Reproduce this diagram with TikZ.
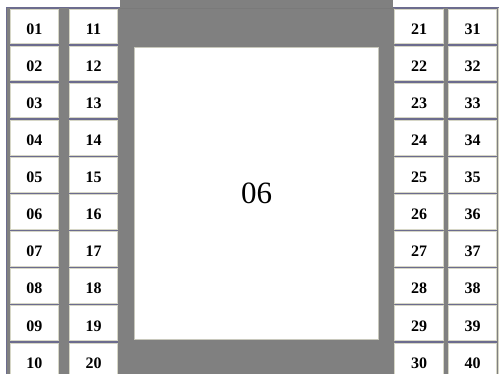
\documentclass[tikz,border=0pt]{standalone}
\usepackage{fontspec}
\setmainfont{Liberation Serif}
\definecolor{bg}{HTML}{808080}
\definecolor{sep}{HTML}{6C6C8E}
\definecolor{edge}{HTML}{D6D6C6}
\definecolor{frame}{HTML}{C8C8BC}
\begin{document}
\begin{tikzpicture}[x=1pt,y=-1pt,
  cellbox/.style={fill=white, draw=edge, line width=0.6pt, minimum width=48.5pt,
    minimum height=34.6pt, inner sep=0pt, text height=16pt, text depth=0pt,
    font=\fontsize{16}{16}\selectfont\bfseries},
  mainbox/.style={fill=white, draw=frame, line width=1.4pt, minimum width=244pt,
    minimum height=292pt, inner sep=0pt, font=\fontsize{31}{31}\selectfont}]
\useasboundingbox (0,0) rectangle (501,374);
\fill[white] (0,0) rectangle (501,374);
% grey table backgrounds
\fill[bg] (6,7) rectangle (499,374);
\fill[bg] (120,0) rectangle (393,7);
% outer table frame lines
\draw[sep, line width=1.2pt] (6.6,374) -- (6.6,7.6) -- (120,7.6);
\draw[sep, line width=1.2pt] (393,7.6) -- (499,7.6);
\draw[edge, line width=0.8pt] (498.6,7.6) -- (498.6,374);
\draw[black!52, line width=0.5pt] (120,8) -- (393,8);
% column strips (row separators)
\foreach \xa/\xb in {10/59,69/118,395/443,448/497}
  \fill[sep] (\xa,7.6) rectangle (\xb,374);
% cells
\foreach \r/\a/\b/\c/\d in {1/01/11/21/31, 2/02/12/22/32, 3/03/13/23/33,
    4/04/14/24/34, 5/05/15/25/35, 6/06/16/26/36, 7/07/17/27/37,
    8/08/18/28/38, 9/09/19/29/39, 10/10/20/30/40}{
  \pgfmathsetmacro{\yc}{9+37.1*(\r-1)+17.3}
  \node[cellbox] (c\a) at (34.5,\yc) {\a};
  \node[cellbox] (c\b) at (93.5,\yc) {\b};
  \node[cellbox] (c\c) at (419,\yc) {\c};
  \node[cellbox] (c\d) at (472.5,\yc) {\d};
}
% central panel
\node[mainbox] (main) at (256.5,193.5) {06};
\end{tikzpicture}
\end{document}
